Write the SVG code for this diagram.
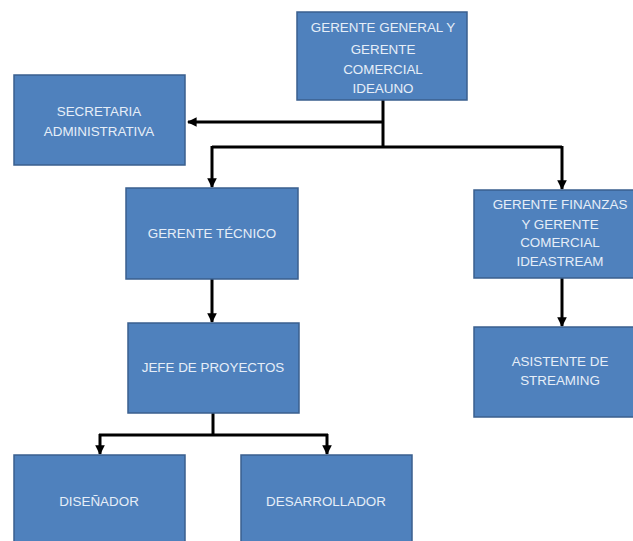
<svg xmlns="http://www.w3.org/2000/svg" width="633" height="541" viewBox="0 0 633 541">
<style>
.box{fill:#4f81bd;stroke:#3a5f8e;stroke-width:1.5}
.t{font-family:"Liberation Sans",Arial,sans-serif;font-size:13.4px;fill:#e6eef8;text-anchor:middle}
.c{fill:none;stroke:#000;stroke-width:3}
</style>
<defs>
<marker id="a" viewBox="0 0 10 10" refX="9" refY="5" markerWidth="3.2" markerHeight="3.2" orient="auto" markerUnits="strokeWidth">
<path d="M0,0 L10,5 L0,10 z" fill="#000"/>
</marker>
</defs>
<rect width="633" height="541" fill="#fff"/>
<g id="connectors">
<path class="c" d="M383,100 V147"/>
<path class="c" d="M383,122 H188" marker-end="url(#a)"/>
<path class="c" d="M212,147 H562"/>
<path class="c" d="M212,146 V187" marker-end="url(#a)"/>
<path class="c" d="M562,146 V189" marker-end="url(#a)"/>
<path class="c" d="M212,279 V322" marker-end="url(#a)"/>
<path class="c" d="M562,278 V326" marker-end="url(#a)"/>
<path class="c" d="M213,413 V435"/>
<path class="c" d="M99,435 H328"/>
<path class="c" d="M100,434 V454" marker-end="url(#a)"/>
<path class="c" d="M327,434 V454" marker-end="url(#a)"/>
</g>
<g id="gerente-general">
<rect class="box" x="297" y="12" width="170" height="88"/>
<text class="t" x="383" y="32">GERENTE GENERAL Y</text>
<text class="t" x="383" y="54">GERENTE</text>
<text class="t" x="383" y="74">COMERCIAL</text>
<text class="t" x="383" y="93">IDEAUNO</text>
</g>
<g id="secretaria">
<rect class="box" x="14" y="75" width="171" height="90"/>
<text class="t" x="99" y="116">SECRETARIA</text>
<text class="t" x="99" y="136">ADMINISTRATIVA</text>
</g>
<g id="gerente-tecnico">
<rect class="box" x="126" y="188" width="172" height="91"/>
<text class="t" x="212" y="238">GERENTE TÉCNICO</text>
</g>
<g id="gerente-finanzas">
<rect class="box" x="474" y="190" width="170" height="88"/>
<text class="t" x="560" y="209">GERENTE FINANZAS</text>
<text class="t" x="560" y="229">Y GERENTE</text>
<text class="t" x="560" y="247">COMERCIAL</text>
<text class="t" x="560" y="266">IDEASTREAM</text>
</g>
<g id="asistente">
<rect class="box" x="474" y="327" width="170" height="90"/>
<text class="t" x="560" y="366">ASISTENTE DE</text>
<text class="t" x="560" y="385">STREAMING</text>
</g>
<g id="jefe">
<rect class="box" x="128" y="323" width="171" height="90"/>
<text class="t" x="213" y="372">JEFE DE PROYECTOS</text>
</g>
<g id="disenador">
<rect class="box" x="14" y="455" width="171" height="95"/>
<text class="t" x="99" y="506">DISEÑADOR</text>
</g>
<g id="desarrollador">
<rect class="box" x="241" y="455" width="171" height="95"/>
<text class="t" x="326" y="506">DESARROLLADOR</text>
</g>
</svg>
